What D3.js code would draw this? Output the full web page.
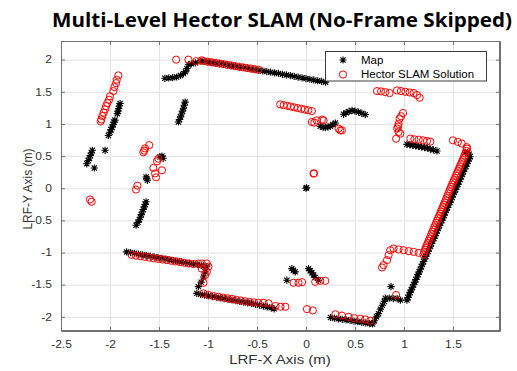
<!DOCTYPE html>
<html><head><meta charset="utf-8">
<script src="https://cdn.jsdelivr.net/npm/d3@7"></script>
<style>body{margin:0;background:#fff}</style>
</head><body><svg id="chart" width="517" height="371"></svg>
<script>
const titleText = "Multi-Level Hector SLAM (No-Frame Skipped)";
const xLabel = "LRF-X Axis (m)";
const yLabel = "LRF-Y Axis (m)";
const xTicks = [-2.5, -2, -1.5, -1, -0.5, 0, 0.5, 1, 1.5];
const yTicks = [-2, -1.5, -1, -0.5, 0, 0.5, 1, 1.5, 2];
const seriesNames = ["Map", "Hector SLAM Solution"];

// Reference map scan points [x, y] in metres
const mapPoints = [
  [-1.897,1.32],[-1.905,1.28],[-1.912,1.24],[-1.918,1.20],[-1.925,1.16],
  [-1.95,1.06],[-1.958,1.03],[-1.967,0.99],[-1.978,0.95],[-1.99,0.91],[-2.0,0.87],[-2.017,0.82],
  [-2.05,0.59],
  [-2.18,0.59],[-2.19,0.55],[-2.2,0.51],[-2.21,0.47],[-2.222,0.43],[-2.237,0.38],[-2.16,0.315],
  [-1.44,1.71],[-1.40,1.715],[-1.36,1.72],[-1.32,1.73],[-1.28,1.755],[-1.25,1.785],[-1.23,1.81],
  [-1.215,1.86],[-1.2,1.92],[-1.17,1.935],[-1.13,1.95],[-1.08,1.977],
  [-1.04,1.975],[-1.00,1.965],[-0.96,1.955],[-0.92,1.945],[-0.88,1.938],[-0.84,1.928],[-0.80,1.918],
  [-0.76,1.905],[-0.72,1.895],[-0.68,1.885],[-0.64,1.878],[-0.60,1.868],[-0.56,1.855],[-0.52,1.845],
  [-0.48,1.835],[-0.44,1.825],[-0.40,1.815],[-0.36,1.805],[-0.32,1.795],[-0.28,1.785],[-0.24,1.772],
  [-0.20,1.762],[-0.16,1.752],[-0.12,1.740],[-0.08,1.728],[-0.04,1.718],[0.00,1.705],[0.04,1.695],
  [0.08,1.684],[0.12,1.672],[0.16,1.662],[0.20,1.650],
  [-1.233,1.34],[-1.242,1.29],[-1.25,1.245],[-1.26,1.2],[-1.27,1.155],[-1.28,1.11],[-1.29,1.07],[-1.302,1.03],
  [-1.489,0.486],[-1.47,0.5],[-1.458,0.466],
  [-1.632,0.175],[-1.625,0.15],[-1.618,0.124],
  [-1.632,-0.21],[-1.64,-0.25],[-1.65,-0.29],[-1.66,-0.33],[-1.67,-0.37],[-1.68,-0.41],[-1.69,-0.45],
  [-1.70,-0.49],[-1.715,-0.53],[-1.734,-0.575],
  [-1.83,-0.990],[-1.79,-1.000],[-1.75,-1.012],[-1.71,-1.023],[-1.67,-1.034],[-1.63,-1.045],[-1.59,-1.056],
  [-1.55,-1.068],[-1.51,-1.079],[-1.47,-1.090],[-1.43,-1.101],[-1.39,-1.112],[-1.35,-1.124],[-1.31,-1.135],
  [-1.27,-1.146],[-1.23,-1.157],[-1.19,-1.168],[-1.15,-1.180],[-1.11,-1.190],[-1.07,-1.201],[-1.04,-1.210],
  [-1.012,-1.220],[-1.03,-1.30],[-1.046,-1.38],[-1.07,-1.46],[-1.098,-1.53],[-1.114,-1.635],
  [-1.075,-1.650],[-1.035,-1.662],[-0.995,-1.672],[-0.955,-1.685],[-0.915,-1.695],[-0.875,-1.705],
  [-0.835,-1.715],[-0.795,-1.727],[-0.755,-1.738],[-0.715,-1.748],[-0.675,-1.760],[-0.635,-1.770],
  [-0.595,-1.782],[-0.555,-1.792],[-0.515,-1.805],[-0.475,-1.818],[-0.435,-1.832],[-0.395,-1.846],
  [-0.355,-1.860],[-0.325,-1.875],
  [-0.195,-1.43],[-0.144,-1.25],[-0.128,-1.275],[-0.11,-1.30],
  [0.026,-1.25],[0.043,-1.282],[0.06,-1.315],[0.078,-1.35],[0.094,-1.387],[0.128,-1.43],
  [0.250,-2.010],[0.290,-2.020],[0.330,-2.030],[0.370,-2.038],[0.410,-2.047],[0.450,-2.055],[0.490,-2.065],
  [0.530,-2.075],[0.570,-2.085],[0.610,-2.095],[0.650,-2.105],[0.680,-2.110],
  [0.700,-2.06],[0.720,-2.00],[0.740,-1.95],[0.760,-1.88],[0.780,-1.82],[0.800,-1.76],[0.810,-1.71],
  [0.850,-1.71],[0.890,-1.715],[0.930,-1.715],[0.963,-1.74],[0.868,-1.53],
  [1.030,-1.74],[1.040,-1.70],[1.052,-1.66],[1.063,-1.62],[1.075,-1.58],[1.087,-1.54],[1.098,-1.50],
  [1.110,-1.46],[1.121,-1.42],[1.133,-1.38],[1.144,-1.34],[1.156,-1.30],[1.167,-1.26],[1.178,-1.22],
  [1.189,-1.18],[1.200,-1.14],[1.211,-1.10],[1.222,-1.06],[1.234,-1.02],[1.246,-0.98],[1.258,-0.94],
  [1.270,-0.90],[1.281,-0.86],[1.293,-0.82],[1.305,-0.78],[1.316,-0.74],[1.328,-0.70],[1.340,-0.66],
  [1.351,-0.62],[1.363,-0.58],[1.375,-0.54],[1.386,-0.50],[1.398,-0.46],[1.410,-0.42],[1.421,-0.38],
  [1.433,-0.34],[1.445,-0.30],[1.456,-0.26],[1.468,-0.22],[1.480,-0.18],[1.492,-0.14],[1.503,-0.10],
  [1.515,-0.06],[1.527,-0.02],[1.538,0.02],[1.550,0.06],[1.561,0.10],[1.573,0.14],[1.585,0.18],
  [1.596,0.22],[1.608,0.26],[1.619,0.30],[1.631,0.34],[1.642,0.38],[1.654,0.42],[1.666,0.46],
  [1.675,0.49],[1.665,0.53],[1.650,0.56],[1.627,0.56],
  [0.146,0.963],[0.175,0.95],[0.197,0.943],[0.225,0.955],[0.248,0.963],[0.275,0.99],[0.3,1.014],
  [0.384,1.15],[0.41,1.175],[0.44,1.195],[0.47,1.21],[0.5,1.2],[0.537,1.185],[0.57,1.165],[0.605,1.145],
  [1.03,0.683],[1.06,0.675],[1.09,0.668],[1.12,0.66],[1.15,0.652],[1.18,0.643],[1.21,0.632],
  [1.24,0.622],[1.27,0.61],[1.30,0.598],[1.337,0.58],
  [0.0,0.0],[0.006,0.008]
];

// Hector SLAM estimated scan points [x, y] in metres
const slamPoints = [
  [-1.915,1.755],[-1.931,1.688],[-1.938,1.635],[-1.955,1.573],[-1.966,1.511],[-2.0,1.43],[-2.01,1.377],
  [-2.027,1.325],[-2.04,1.278],[-2.05,1.227],[-2.064,1.175],[-2.078,1.123],[-2.088,1.07],[-2.095,1.04],
  [-1.66,0.56],[-1.65,0.585],[-1.642,0.62],[-1.6,0.67],
  [-1.506,0.46],[-1.52,0.42],[-1.557,0.315],[-1.47,0.28],[-1.54,0.23],[-1.53,0.17],
  [-1.72,0.04],[-1.735,-0.02],
  [-2.204,-0.175],[-2.187,-0.21],
  [-1.325,2.0],[-1.2,2.0],[-1.12,1.977],[-1.063,1.99],
  [-1.046,1.977],[-1.005,1.968],[-0.965,1.960],[-0.925,1.950],[-0.885,1.940],[-0.845,1.930],[-0.805,1.920],
  [-0.765,1.910],[-0.725,1.900],[-0.685,1.890],[-0.645,1.880],[-0.605,1.870],[-0.565,1.862],[-0.525,1.852],
  [-0.485,1.843],
  [-0.263,1.304],[-0.228,1.293],[-0.192,1.282],[-0.156,1.270],[-0.120,1.258],[-0.084,1.247],[-0.048,1.235],
  [-0.012,1.224],[0.024,1.212],[0.060,1.200],
  [0.06,1.03],[0.085,1.02],[0.11,1.056],[0.163,1.067],[0.18,1.056],
  [0.333,0.927],[0.35,0.9],[0.367,0.9],
  [0.077,0.228],[0.082,0.232],
  [0.725,1.511],[0.766,1.506],[0.81,1.495],[0.853,1.48],[0.929,1.522],[0.97,1.511],[1.014,1.5],
  [1.058,1.49],[1.099,1.48],[1.133,1.449],[1.16,1.408],
  [0.99,1.17],[0.97,1.12],[0.955,1.08],[0.945,1.0],[0.94,0.96],[0.93,0.93],[0.945,0.875],[0.962,0.85],[0.92,0.77],
  [1.065,0.772],[1.106,0.761],[1.15,0.756],[1.195,0.745],[1.235,0.734],[1.269,0.725],
  [1.5,0.745],[1.55,0.72],[1.59,0.695],[1.64,0.64],
  [1.644,0.616],[1.636,0.58],[1.628,0.545],[1.619,0.51],[1.610,0.475],[1.600,0.44],[1.590,0.405],
  [1.580,0.37],[1.570,0.335],[1.560,0.30],[1.550,0.265],[1.540,0.23],[1.530,0.195],[1.520,0.16],
  [1.510,0.125],[1.500,0.09],[1.490,0.055],[1.480,0.02],[1.471,-0.015],[1.462,-0.05],[1.452,-0.085],
  [1.443,-0.12],[1.434,-0.155],[1.425,-0.19],[1.415,-0.225],[1.405,-0.26],[1.396,-0.295],[1.386,-0.33],
  [1.377,-0.365],[1.367,-0.40],[1.357,-0.435],[1.347,-0.47],[1.338,-0.505],[1.328,-0.54],[1.318,-0.575],
  [1.308,-0.61],[1.299,-0.645],[1.289,-0.68],[1.280,-0.715],[1.270,-0.75],[1.261,-0.785],[1.251,-0.82],
  [1.242,-0.855],[1.232,-0.89],[1.223,-0.925],[1.214,-0.96],[1.205,-0.995],[1.198,-1.03],
  [1.15,-1.005],[1.099,-0.99],[1.048,-0.978],[0.997,-0.963],[0.945,-0.952],[0.894,-0.937],
  [0.86,-0.963],[0.843,-1.04],[0.827,-1.118],[0.792,-1.195],[0.776,-1.232],
  [0.92,-1.66],
  [0.3,-1.96],[0.367,-1.98],[0.435,-2.0],[0.493,-2.02],[0.554,-2.03],[0.605,-2.04],[0.656,-2.06],
  [0.01,-1.88],[0.07,-1.9],
  [-0.127,-1.47],[-0.076,-1.47],[-0.04,-1.46],
  [0.094,-1.455],[0.146,-1.44],[0.197,-1.44],
  [-1.78,-1.035],[-1.735,-1.048],[-1.69,-1.058],[-1.645,-1.067],[-1.60,-1.078],[-1.555,-1.090],[-1.51,-1.098],
  [-1.465,-1.108],[-1.42,-1.118],[-1.375,-1.128],[-1.33,-1.138],[-1.285,-1.150],[-1.24,-1.160],[-1.195,-1.170],
  [-1.15,-1.178],[-1.098,-1.17],[-1.063,-1.17],[-1.012,-1.17],[-0.995,-1.22],[-1.063,-1.25],[-1.012,-1.30],
  [-1.029,-1.35],[-1.046,-1.47],
  [-1.046,-1.635],[-0.995,-1.660],[-0.944,-1.677],[-0.893,-1.688],[-0.845,-1.700],[-0.800,-1.712],
  [-0.755,-1.722],[-0.710,-1.735],[-0.665,-1.745],[-0.620,-1.757],[-0.575,-1.768],[-0.530,-1.775],
  [-0.485,-1.780],[-0.433,-1.78],[-0.382,-1.79],[-0.31,-1.83],[-0.26,-1.843],[-0.21,-1.843]
];

const svg = d3.select("#chart");
const plot = {left: 61, right: 500, top: 41, bottom: 331};
const x = d3.scaleLinear().domain([-2.5, 1.98]).range([plot.left, plot.right]);
const y = d3.scaleLinear().domain([-2.22, 2.29]).range([plot.bottom, plot.top]);
const pw = plot.right - plot.left, ph = plot.bottom - plot.top;
const fmt = d => String(d);
const axisColor = "#707070", textColor = "#333333";

// widen text horizontally by factor k
function widen(sel, k) {
  sel.each(function () {
    const w = this.getComputedTextLength();
    d3.select(this).attr("textLength", w * k).attr("lengthAdjust", "spacingAndGlyphs");
  });
}

svg.append("rect").attr("width", 517).attr("height", 371).attr("fill", "#fff");

// grid
const grid = svg.append("g");
grid.append("g").attr("transform", `translate(0,${plot.bottom})`)
  .call(d3.axisBottom(x).tickValues(xTicks).tickSize(-ph).tickFormat(""))
  .call(g => g.select(".domain").remove())
  .call(g => g.selectAll("line").attr("stroke", "#e3e3e3"));
grid.append("g").attr("transform", `translate(${plot.left},0)`)
  .call(d3.axisLeft(y).tickValues(yTicks).tickSize(-pw).tickFormat(""))
  .call(g => g.select(".domain").remove())
  .call(g => g.selectAll("line").attr("stroke", "#e3e3e3"));

// data
const asterisk = "M-3.6,0L3.6,0M0,-3.6L0,3.6M-2.6,-2.6L2.6,2.6M-2.6,2.6L2.6,-2.6";
svg.append("g").selectAll("path").data(mapPoints).join("path")
  .attr("d", asterisk)
  .attr("transform", d => `translate(${x(d[0])},${y(d[1])})`)
  .attr("fill", "none").attr("stroke", "#000").attr("stroke-width", 1.1);
svg.append("g").selectAll("circle").data(slamPoints).join("circle")
  .attr("cx", d => x(d[0])).attr("cy", d => y(d[1])).attr("r", 3.6)
  .attr("fill", "none").attr("stroke", "#ff0000").attr("stroke-width", 1);

// axes with inward ticks on all four sides
function styleAxis(g) {
  g.select(".domain").attr("stroke", axisColor);
  g.selectAll(".tick line").attr("stroke", axisColor);
  g.selectAll("text").attr("fill", textColor).attr("font-family", "Liberation Sans, Arial, sans-serif").attr("font-size", 10);
}
const xb = svg.append("g").attr("transform", `translate(0,${plot.bottom})`)
  .call(d3.axisBottom(x).tickValues(xTicks).tickSize(-4).tickPadding(10).tickFormat(fmt).tickSizeOuter(0))
  .call(styleAxis);
widen(xb.selectAll("text"), 1.2);
svg.append("g").attr("transform", `translate(0,${plot.top})`)
  .call(d3.axisTop(x).tickValues(xTicks).tickSize(-4).tickFormat("").tickSizeOuter(0)).call(styleAxis);
const yl = svg.append("g").attr("transform", `translate(${plot.left},0)`)
  .call(d3.axisLeft(y).tickValues(yTicks).tickSize(-4).tickPadding(9).tickFormat(fmt).tickSizeOuter(0))
  .call(styleAxis);
widen(yl.selectAll("text"), 1.2);
svg.append("g").attr("transform", `translate(${plot.right},0)`)
  .call(d3.axisRight(y).tickValues(yTicks).tickSize(-4).tickFormat("").tickSizeOuter(0)).call(styleAxis);

// title and axis labels
const title = svg.append("text").attr("x", 282).attr("y", 27).attr("text-anchor", "middle")
  .attr("font-family", "Open Sans, sans-serif").attr("font-weight", 700).attr("font-size", 19)
  .attr("fill", "#000").text(titleText);
title.attr("textLength", 460).attr("lengthAdjust", "spacingAndGlyphs");

const xl = svg.append("text").attr("x", 280).attr("y", 364).attr("text-anchor", "middle")
  .attr("font-family", "Liberation Sans, Arial, sans-serif").attr("font-size", 12.5)
  .attr("fill", textColor).text(xLabel);
widen(xl, 1.2);
svg.append("text").attr("transform", "translate(32,189) rotate(-90)").attr("text-anchor", "middle")
  .attr("font-family", "Liberation Sans, Arial, sans-serif").attr("font-size", 12)
  .attr("fill", textColor).text(yLabel);

// legend
const lg = svg.append("g");
lg.append("rect").attr("x", 325.5).attr("y", 51.5).attr("width", 161).attr("height", 29.5)
  .attr("fill", "#fff").attr("stroke", "#3c3c3c").attr("stroke-width", 1);
lg.append("path").attr("d", asterisk).attr("transform", "translate(343,60)")
  .attr("fill", "none").attr("stroke", "#000").attr("stroke-width", 1.1);
lg.append("circle").attr("cx", 343).attr("cy", 74.5).attr("r", 3.6)
  .attr("fill", "none").attr("stroke", "#ff0000");
lg.selectAll("text.lbl").data(seriesNames).join("text").attr("class", "lbl")
  .attr("x", 361).attr("y", (d, i) => 63.5 + i * 14.5)
  .attr("font-family", "Liberation Sans, Arial, sans-serif").attr("font-size", 10)
  .attr("fill", "#000").text(d => d)
  .call(s => widen(s, 1.15));

// outer box
svg.append("rect").attr("x", plot.left + 0.5).attr("y", plot.top + 0.5).attr("width", pw - 1).attr("height", ph - 1)
  .attr("fill", "none").attr("stroke", axisColor);
</script></body></html>
